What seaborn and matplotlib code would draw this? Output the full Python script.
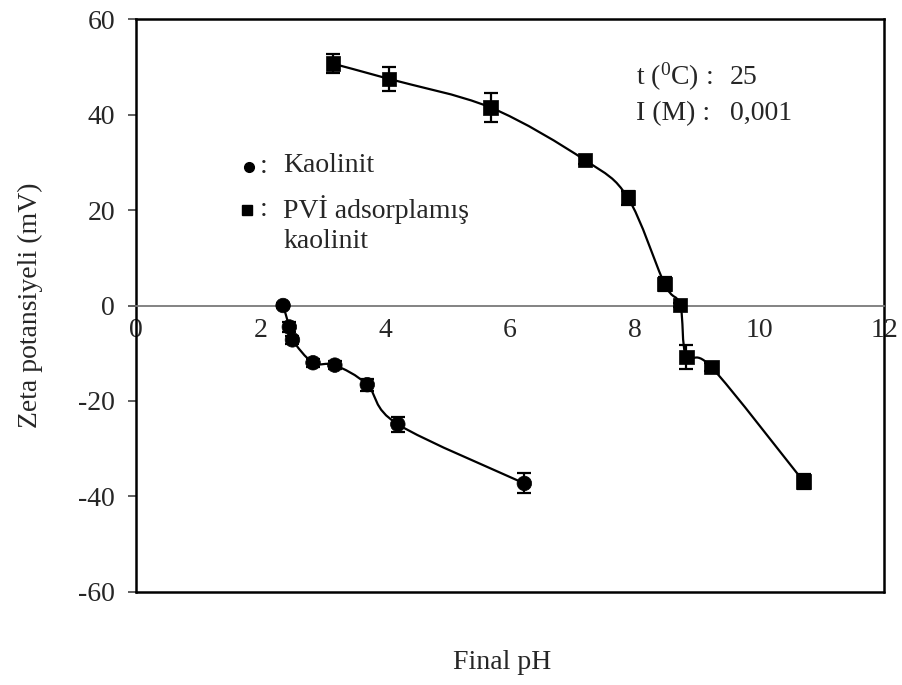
import numpy as np
import pandas as pd
import matplotlib
matplotlib.use("Agg")
import matplotlib.pyplot as plt
from matplotlib.path import Path
from matplotlib.patches import PathPatch
import seaborn as sns

# Zeta potential vs. final pH
kaolin_ph = [2.36, 2.46, 2.51, 2.84, 3.19, 3.71, 4.20, 6.23]
kaolin_zeta = [0.0, -4.5, -7.2, -12.0, -12.5, -16.6, -24.9, -37.3]
kaolin_err = [0.5, 1.0, 0.8, 0.8, 0.8, 1.25, 1.6, 2.1]

pvi_ph = [3.16, 4.06, 5.69, 7.20, 7.89, 8.48, 8.73, 8.83, 9.23, 10.71]
pvi_zeta = [50.7, 47.5, 41.5, 30.5, 22.6, 4.5, 0.1, -10.8, -12.9, -36.9]
pvi_err = [2.0, 2.6, 3.1, 0.8, 1.5, 1.5, 0.5, 2.5, 0.8, 1.5]

series_names = ["Kaolinit", "PVİ adsorplamış kaolinit"]
x_ticks = [0, 2, 4, 6, 8, 10, 12]
y_ticks = [-60, -40, -20, 0, 20, 40, 60]

sns.set_theme(style="white")
plt.rcParams["font.family"] = ["Liberation Serif", "DejaVu Serif"]
plt.rcParams["mathtext.fontset"] = "custom"
plt.rcParams["mathtext.rm"] = "Liberation Serif"
plt.rcParams["mathtext.it"] = "Liberation Serif:italic"

FS = 20

df = pd.concat([
    pd.DataFrame({"pH": kaolin_ph, "zeta": kaolin_zeta, "err": kaolin_err,
                  "series": series_names[0]}),
    pd.DataFrame({"pH": pvi_ph, "zeta": pvi_zeta, "err": pvi_err,
                  "series": series_names[1]}),
], ignore_index=True)

fig = plt.figure(figsize=(9.03, 6.85), dpi=100)
ax = fig.add_axes([0.1506, 0.1362, 0.8284, 0.8356])


def smooth_path(xs, ys):
    """Catmull-Rom curve through the points, expressed as cubic Bezier segments."""
    pts = np.column_stack([xs, ys]).astype(float)
    ext = np.vstack([pts[0], pts, pts[-1]])
    verts = [pts[0]]
    codes = [Path.MOVETO]
    for i in range(1, len(ext) - 2):
        p0, p1, p2, p3 = ext[i - 1], ext[i], ext[i + 1], ext[i + 2]
        verts += [p1 + (p2 - p0) / 6.0, p2 - (p3 - p1) / 6.0, p2]
        codes += [Path.CURVE4] * 3
    return Path(verts, codes)


# connecting smoothed curves
for name in series_names:
    sub = df[df["series"] == name]
    ax.add_patch(PathPatch(smooth_path(sub["pH"], sub["zeta"]), fill=False,
                           edgecolor="black", lw=1.6, zorder=2))

# error bars
for name in series_names:
    sub = df[df["series"] == name]
    ax.errorbar(sub["pH"], sub["zeta"], yerr=sub["err"], fmt="none",
                ecolor="black", elinewidth=1.6, capsize=5, capthick=1.6, zorder=3)

# markers
sns.scatterplot(data=df, x="pH", y="zeta", style="series", hue="series",
                markers={series_names[0]: "o", series_names[1]: "s"},
                palette={series_names[0]: "black", series_names[1]: "black"},
                s=110, edgecolor="black", linewidth=0.5, legend=False, ax=ax, zorder=4)

ax.set_xlim(0, 12)
ax.set_ylim(-60, 60)
ax.set_xticks(x_ticks)
ax.set_yticks(y_ticks)
ax.set_xticklabels([str(t) for t in x_ticks])
ax.set_yticklabels([str(t) for t in y_ticks])

# frame plus x-axis crossing at zero
for side in ["left", "right", "top"]:
    ax.spines[side].set_color("black")
    ax.spines[side].set_linewidth(1.8)
ax.spines["bottom"].set_position(("data", 0))
ax.spines["bottom"].set_color("#7a7a7a")
ax.spines["bottom"].set_linewidth(1.3)
ax.plot([0, 1], [0, 0], transform=ax.transAxes, color="black", lw=1.8,
        clip_on=False, zorder=5)

ax.tick_params(axis="x", direction="out", length=6, width=1.2, color="#444444",
               labelsize=FS, pad=3)
ax.tick_params(axis="y", direction="out", length=6, width=1.2, color="#444444",
               labelsize=FS, pad=9, left=True)
ax.grid(False)

ax.set_ylabel("Zeta potansiyeli (mV)", fontsize=FS)
ax.yaxis.set_label_coords(-0.124, 0.5)
ax.set_xlabel("Final pH", fontsize=FS)
ax.xaxis.set_label_coords(0.49, -0.102)

# legend drawn as keys with colon separators
ax.plot([0.151], [0.742], marker="o", ms=7, color="black", transform=ax.transAxes,
        clip_on=False)
ax.plot([0.148], [0.667], marker="s", ms=7.5, color="black", transform=ax.transAxes,
        clip_on=False)
for yy in (0.742, 0.667):
    ax.text(0.165, yy, ":", fontsize=FS, va="center", ha="left", transform=ax.transAxes)
ax.text(0.197, 0.745, "Kaolinit", fontsize=FS, va="center", ha="left",
        transform=ax.transAxes)
ax.text(0.197, 0.668, "PVİ adsorplamış", fontsize=FS, va="center", ha="left",
        transform=ax.transAxes)
ax.text(0.197, 0.612, "kaolinit", fontsize=FS, va="center", ha="left",
        transform=ax.transAxes)

# measurement conditions
ax.text(0.668, 0.899, r"t ($^{\mathrm{0}}$C) :", fontsize=FS, va="center", ha="left",
        transform=ax.transAxes)
ax.text(0.794, 0.899, "25", fontsize=FS, va="center", ha="left",
        transform=ax.transAxes)
ax.text(0.668, 0.836, "I (M) :", fontsize=FS, va="center", ha="left",
        transform=ax.transAxes)
ax.text(0.794, 0.836, "0,001", fontsize=FS, va="center", ha="left",
        transform=ax.transAxes)

fig.savefig("out.png", dpi=100, facecolor="white")
